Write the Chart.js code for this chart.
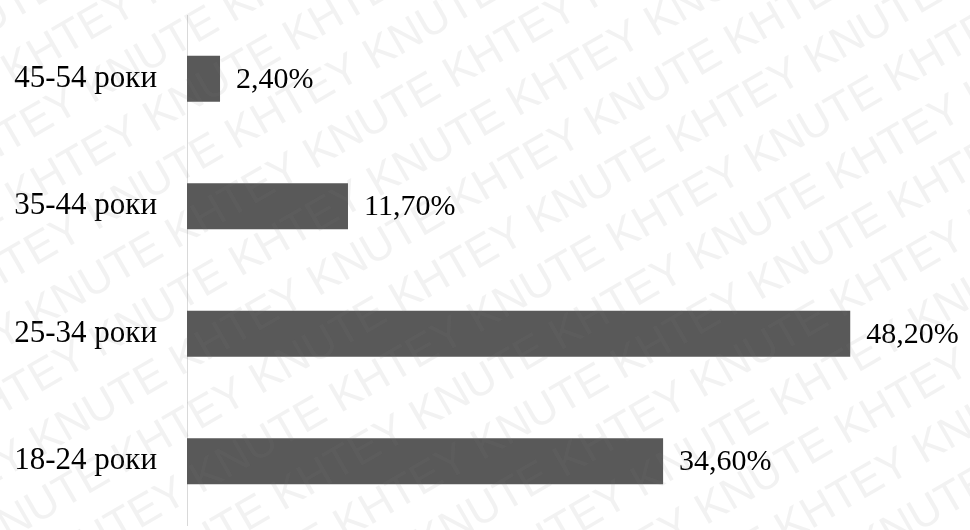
<!DOCTYPE html>
<html>
<head>
<meta charset="utf-8">
<script src="https://cdn.jsdelivr.net/npm/chart.js@4"></script>
<style>
  html, body { margin: 0; padding: 0; background: #fff; }
  #wrap { width: 970px; height: 530px; }
</style>
</head>
<body>
<div id="wrap"><canvas id="age-chart" width="970" height="530"></canvas></div>
<script>
const ageGroups = ["45-54 роки", "35-44 роки", "25-34 роки", "18-24 роки"];
const shares = [2.4, 11.7, 48.2, 34.6];

const fontFamily = '"Liberation Serif", "Times New Roman", serif';

// value labels to the right of each bar, e.g. "48,20%"
const barLabels = {
  id: "barLabels",
  afterDatasetsDraw(chart) {
    const ctx = chart.ctx;
    ctx.save();
    ctx.font = "30px " + fontFamily;
    ctx.fillStyle = "#000";
    ctx.textAlign = "left";
    ctx.textBaseline = "middle";
    chart.getDatasetMeta(0).data.forEach((bar, i) => {
      const text = shares[i].toFixed(2).replace(".", ",") + "%";
      ctx.fillText(text, bar.x + 16, bar.y + 1);
    });
    ctx.restore();
  },
};

// faint diagonal KNUTE / KHTEY watermark
const watermark = {
  id: "watermark",
  afterDraw(chart) {
    const ctx = chart.ctx;
    ctx.save();
    ctx.fillStyle = "rgba(128,128,128,0.1)";
    ctx.font = '44px "Liberation Sans", Arial, sans-serif';
    ctx.translate(485, 265);
    ctx.rotate(-Math.PI / 6);
    for (let i = -8; i <= 8; i++) {
      const row = i % 2 === 0 ? "KNUTE KHTEY " : "KHTEY KNUTE ";
      ctx.fillText(row.repeat(10), -900 + (i % 3) * 60, i * 56);
    }
    ctx.restore();
  },
};

const ageCanvas = document.getElementById("age-chart");

let ageChart = new Chart(ageCanvas, {
  type: "bar",
  data: {
    labels: ageGroups,
    datasets: [
      {
        data: shares,
        backgroundColor: "#595959",
        borderWidth: 0,
        categoryPercentage: 1,
        barPercentage: 0.36,
      },
    ],
  },
  options: {
    indexAxis: "y",
    responsive: false,
    animation: false,
    layout: {
      padding: { top: 15, bottom: 5, left: 0, right: 95 },
    },
    scales: {
      x: {
        display: false,
        min: 0,
        max: 50,
      },
      y: {
        afterFit: (scale) => {
          scale.width = 187;
          scale.paddingTop = 0;
          scale.paddingBottom = 0;
        },
        grid: { display: false, drawTicks: false },
        border: { display: true, color: "#d9d9d9", width: 1 },
        ticks: {
          color: "#000",
          padding: 30,
          font: { family: fontFamily, size: 31 },
        },
      },
    },
    plugins: {
      legend: { display: false },
      tooltip: { enabled: false },
    },
  },
  plugins: [barLabels, watermark],
});
</script>
</body>
</html>
